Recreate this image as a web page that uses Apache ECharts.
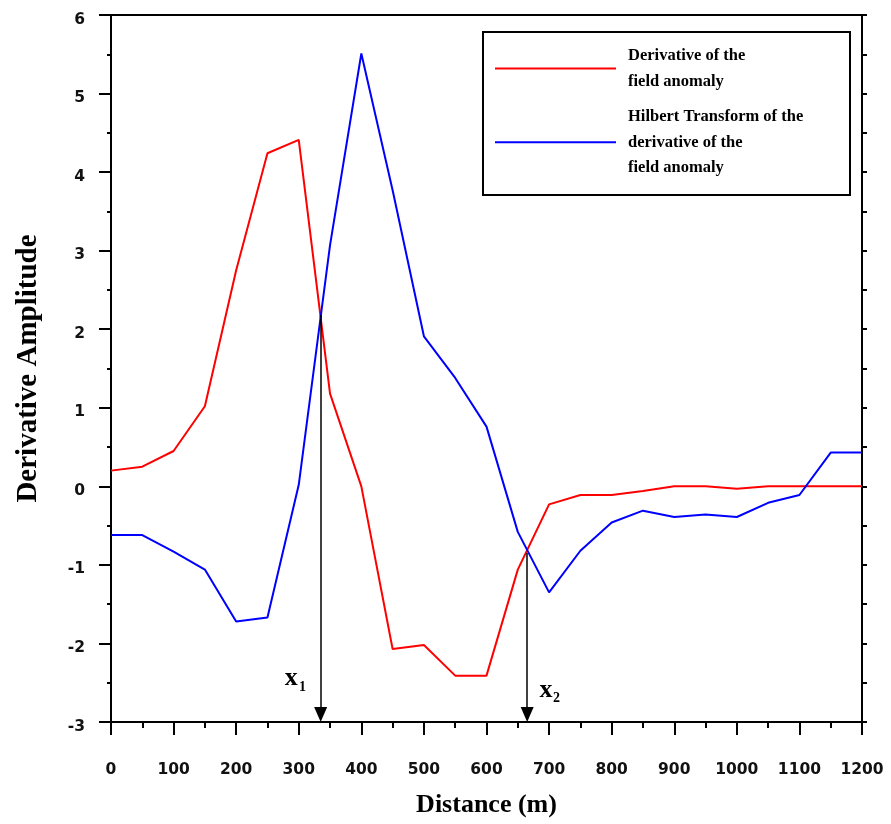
<!DOCTYPE html>
<html>
<head>
<meta charset="utf-8">
<title>Derivative and Hilbert Transform</title>
<script src="https://cdn.jsdelivr.net/npm/echarts@6/dist/echarts.min.js"></script>
<style>
  html, body { margin: 0; padding: 0; background: #fff; }
  #chart { width: 891px; height: 824px; }
</style>
</head>
<body>
<div id="chart"></div>
<script>
// distance along the profile (m)
const distance = [0, 50, 100, 150, 200, 250, 300, 350, 400, 450, 500, 550, 600,
  650, 700, 750, 800, 850, 900, 950, 1000, 1050, 1100, 1150, 1200];
// derivative of the field anomaly
const derivative = [0.20, 0.25, 0.45, 1.02, 2.75, 4.24, 4.41, 1.18, 0.0, -2.07, -2.02, -2.41, -2.41,
  -1.06, -0.23, -0.11, -0.11, -0.06, 0.0, 0.0, -0.03, 0.0, 0.0, 0.0, 0.0];
// hilbert transform of the derivative
const hilbert = [-0.62, -0.62, -0.83, -1.06, -1.72, -1.67, 0.02, 3.07, 5.51, 3.77, 1.91, 1.38, 0.76,
  -0.58, -1.35, -0.82, -0.46, -0.31, -0.39, -0.36, -0.39, -0.21, -0.11, 0.43, 0.43];

const seriesNames = ["Derivative of the\nfield anomaly",
  "Hilbert Transform of the\nderivative of the\nfield anomaly"];

// x1 / x2 arrows: from the crossing point down to the axis
const arrowX = [335, 665];
const arrowTop = [2.18, -0.85];

const pairs = ys => distance.map((d, i) => [d, ys[i]]);

const chart = echarts.init(document.getElementById("chart"));

const axisLine = { onZero: false, lineStyle: { color: "#000", width: 2 } };
const labelFont = { fontFamily: "DejaVu Sans", fontWeight: "bold", fontSize: 15.5, color: "#111" };
const serif = "Liberation Serif";

chart.setOption({
  animation: false,
  backgroundColor: "#fff",
  grid: { left: 111, right: 29, top: 15, bottom: 102 },
  legend: {
    data: seriesNames,
    orient: "vertical",
    left: 495,
    top: 43,
    padding: 0,
    itemGap: 10,
    itemWidth: 121,
    itemHeight: 2,
    icon: "rect",
    selectedMode: false,
    textStyle: {
      fontFamily: serif,
      fontWeight: "bold",
      fontSize: 16.5,
      lineHeight: 25.5,
      color: "#000",
      padding: [0, 0, 0, 7]
    }
  },
  graphic: [
    {
      type: "rect",
      z: 3,
      shape: { x: 483, y: 32, width: 367, height: 163 },
      style: { fill: "#fff", stroke: "#000", lineWidth: 2 }
    }
  ],
  xAxis: [
    {
      type: "value",
      min: 0,
      max: 1200,
      interval: 100,
      name: "Distance (m)",
      nameLocation: "middle",
      nameGap: 70,
      nameTextStyle: { fontFamily: serif, fontWeight: "bold", fontSize: 26, color: "#000" },
      axisLine: axisLine,
      axisTick: { length: 13, lineStyle: { color: "#000", width: 2 } },
      minorTick: { show: true, splitNumber: 2, length: 6, lineStyle: { color: "#000", width: 2 } },
      axisLabel: Object.assign({ margin: 40, formatter: v => String(v) }, labelFont),
      splitLine: { show: false }
    },
    {
      type: "value",
      position: "top",
      min: 0,
      max: 1200,
      axisLine: axisLine,
      axisTick: { show: false },
      axisLabel: { show: false },
      splitLine: { show: false }
    }
  ],
  yAxis: [
    {
      type: "value",
      min: -3,
      max: 6,
      interval: 1,
      name: "Derivative Amplitude",
      nameLocation: "middle",
      nameGap: 68,
      nameTextStyle: { fontFamily: serif, fontWeight: "bold", fontSize: 29, color: "#000" },
      axisLine: axisLine,
      axisTick: { length: 12, lineStyle: { color: "#000", width: 2 } },
      minorTick: { show: true, splitNumber: 2, length: 4, lineStyle: { color: "#000", width: 2 } },
      axisLabel: Object.assign({ margin: 26, verticalAlign: "top", lineHeight: 9 }, labelFont),
      splitLine: { show: false }
    },
    {
      type: "value",
      position: "right",
      min: -3,
      max: 6,
      interval: 1,
      axisLine: axisLine,
      axisTick: { length: 5, lineStyle: { color: "#000", width: 2 } },
      minorTick: { show: true, splitNumber: 2, length: 5, lineStyle: { color: "#000", width: 2 } },
      axisLabel: { show: false },
      splitLine: { show: false }
    }
  ],
  series: [
    {
      name: seriesNames[0],
      type: "line",
      data: pairs(derivative),
      symbol: "none",
      color: "#ff0000",
      lineStyle: { color: "#ff0000", width: 2 },
      z: 2,
      markLine: {
        silent: true,
        symbol: ["none", "triangle"],
        symbolSize: [13, 15],
        lineStyle: { color: "#000", width: 1.5, type: "solid" },
        label: { show: false },
        data: arrowX.map((x, i) => [
          { coord: [x, arrowTop[i]] },
          { coord: [x, -2.905] }
        ])
      },
      markPoint: {
        silent: true,
        symbol: "circle",
        symbolSize: 0,
        data: [
          { coord: [288, -2.44], label: { formatter: "x", fontFamily: serif, fontWeight: "bold", fontSize: 26, color: "#000" } },
          { coord: [306, -2.56], label: { formatter: "1", fontFamily: serif, fontWeight: "bold", fontSize: 14, color: "#000" } },
          { coord: [695, -2.59], label: { formatter: "x", fontFamily: serif, fontWeight: "bold", fontSize: 26, color: "#000" } },
          { coord: [712, -2.70], label: { formatter: "2", fontFamily: serif, fontWeight: "bold", fontSize: 14, color: "#000" } }
        ]
      }
    },
    {
      name: seriesNames[1],
      type: "line",
      data: pairs(hilbert),
      symbol: "none",
      color: "#0000ff",
      lineStyle: { color: "#0000ff", width: 2 },
      z: 2
    }
  ]
});
</script>
</body>
</html>
